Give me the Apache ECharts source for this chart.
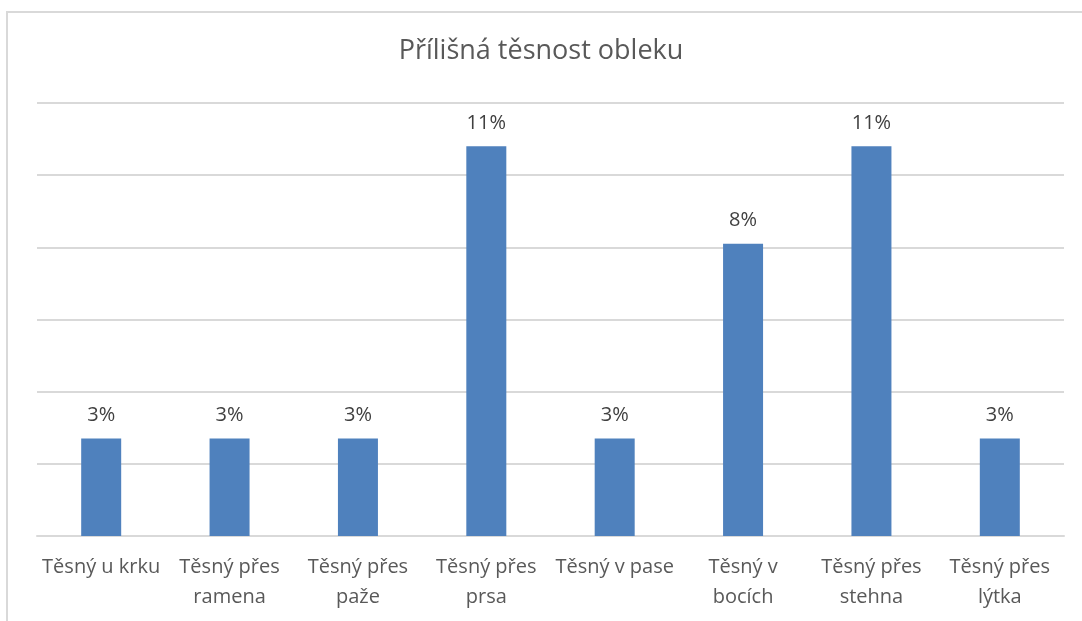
<!DOCTYPE html>
<html>
<head>
<meta charset="utf-8">
<script src="https://cdn.jsdelivr.net/npm/echarts@6/dist/echarts.min.js"></script>
<style>
  html, body { margin: 0; padding: 0; background: #fff; }
</style>
</head>
<body>
<div id="myChart" style="width:1082px;height:621px"></div>
<script>
  // kategorie (osa x)
  var categories = ['Těsný u krku', 'Těsný přes\nramena', 'Těsný přes\npaže', 'Těsný přes\nprsa',
    'Těsný v pase', 'Těsný v\nbocích', 'Těsný přes\nstehna', 'Těsný přes\nlýtka']
  // podíl v procentech
  var values = [2.7, 2.7, 2.7, 10.8, 2.7, 8.1, 10.8, 2.7]
  var yMin = 0
  var yMax = 12
  var yStep = 2

  var myChart = echarts.init(document.getElementById('myChart'))
  var font = '"Open Sans", sans-serif'
  var option = {
    animation: false,
    backgroundColor: '#ffffff',
    title: {
      text: 'Příliš­ná těsnost obleku'.replace('\u00ad', ''),
      left: 'center',
      top: 33,
      textStyle: {
        fontFamily: font,
        fontWeight: 'normal',
        fontSize: 27,
        color: '#595959'
      }
    },
    graphic: [{
      type: 'rect',
      shape: { x: 7, y: 12, width: 1200, height: 800 },
      style: { fill: 'none', stroke: '#d9d9d9', lineWidth: 2 },
      silent: true
    }],
    grid: {
      left: 37,
      right: 18,
      top: 103,
      bottom: 85
    },
    xAxis: {
      type: 'category',
      data: categories,
      axisTick: { show: false },
      axisLine: { lineStyle: { color: '#d9d9d9', width: 2 } },
      axisLabel: {
        interval: 0,
        margin: 16,
        fontFamily: font,
        fontSize: 20,
        lineHeight: 30,
        color: '#595959'
      }
    },
    yAxis: {
      type: 'value',
      min: yMin,
      max: yMax,
      interval: yStep,
      axisLabel: { show: false },
      axisLine: { show: false },
      axisTick: { show: false },
      splitLine: { lineStyle: { color: '#d9d9d9', width: 2 } }
    },
    series: [{
      type: 'bar',
      data: values,
      barWidth: 40,
      itemStyle: { color: '#4f81bd' },
      label: {
        show: true,
        position: 'top',
        distance: 13,
        fontFamily: font,
        fontSize: 20,
        color: '#404040',
        formatter: function (p) { return Math.round(p.value) + '%' }
      }
    }]
  }

  myChart.setOption(option)
</script>
</body>
</html>
